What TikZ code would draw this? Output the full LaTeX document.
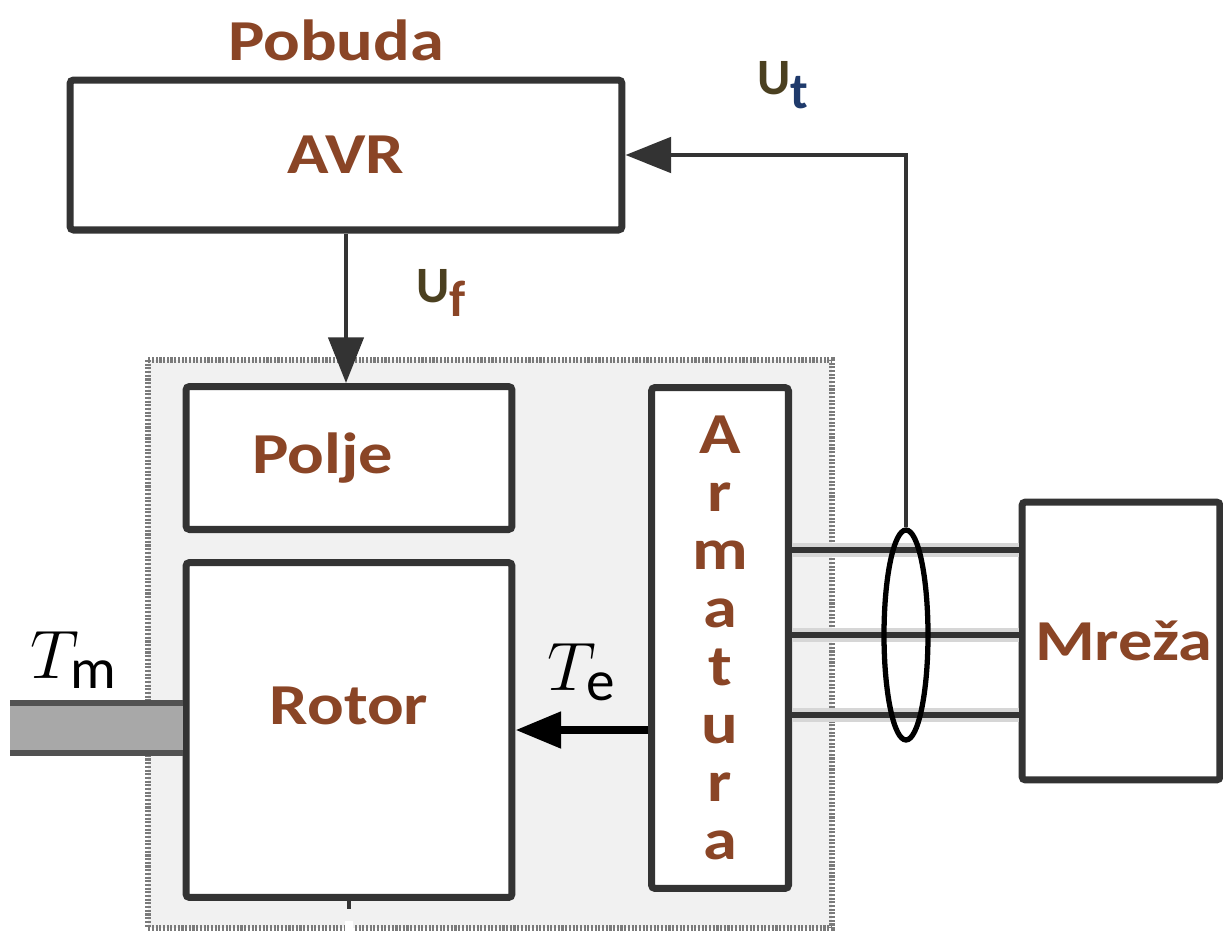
\documentclass[tikz,border=0pt]{standalone}
\usepackage{graphicx}
\usepackage{fontspec}
\setmainfont{Carlito}
\newfontfamily\widefont{Carlito}[FakeStretch=1.18]
\usetikzlibrary{arrows.meta,calc,positioning,shapes.geometric}
\definecolor{Ink}{HTML}{333333}
\definecolor{Rust}{HTML}{8A4526}
\definecolor{Bark}{HTML}{4B4020}
\definecolor{Navy}{HTML}{1F3A6B}
\definecolor{Haze}{HTML}{F1F1F1}
\definecolor{Steel}{HTML}{A8A8A8}
\newcommand{\blocktext}{\widefont\bfseries\fontsize{33}{33}\selectfont}
\newcommand{\signaltext}{\bfseries\fontsize{29}{33}\selectfont}
\newcommand{\torque}[1]{\scalebox{1.57}{\Huge$T_{\mathrm{#1}}$}}

\begin{document}
\begin{tikzpicture}[x=0.02cm,y=-0.02cm,
    blok/.style={draw=Ink,line width=4pt,fill=white,rounded corners=2pt,inner sep=0pt,font=\blocktext,text=Rust},
    lbl/.style={font=\blocktext,text=Rust,inner sep=0pt},
    sig/.style={font=\signaltext,text=Bark,inner sep=0pt},
    tip/.style={-{Triangle[length=26pt,width=20pt]}}]
    \useasboundingbox (0,0) rectangle (1223,933);
    \filldraw[fill=Haze,draw=Ink!65,line width=3pt,dash pattern=on 1.2pt off 0.9pt] (148,360) rectangle (832,928);
    \node[blok,minimum width=11.04cm,minimum height=3cm] (avr) at (346,155) {AVR};
    \node[blok,minimum width=6.52cm,minimum height=2.86cm] (polje) at (349,458) {\hspace*{-30pt}Polje};
    \node[blok,minimum width=6.52cm,minimum height=6.7cm] (rotor) at (349,730) {\raisebox{28pt}{Rotor}};
    \node[blok,minimum width=2.74cm,minimum height=10.02cm,align=center] (arm) at (720,638) {A\\r\\m\\a\\t\\u\\r\\a};
    \node[blok,minimum width=3.96cm,minimum height=5.56cm] (mreza) at (1121,641) {\hspace*{3pt}Mreža};
    % shaft
    \fill[Steel] (10,703) rectangle (rotor.west |- 0,753);
    \draw[Ink!85,line width=3pt] (10,703) -- (rotor.west |- 0,703) (10,753) -- (rotor.west |- 0,753);
    \draw[white,line width=4pt] (rotor.south) ++(0,20) -- ++(0,16);
    \draw[Ink,line width=2pt] (rotor.south) -- ++(0,8);
    % three phases
    \foreach \y in {550,635,715} {
      \draw[line width=8pt,Ink!20] (arm.east |- 0,\y) -- (mreza.west |- 0,\y);
      \draw[line width=3.4pt,Ink] (arm.east |- 0,\y) -- (mreza.west |- 0,\y);
    }
    \node[draw=black,line width=3pt,ellipse,minimum width=0.88cm,minimum height=4.2cm,inner sep=0pt] (ring) at (906,635) {};
    \draw[tip,line width=2.8pt,Ink] (ring.north) |- (avr.east);
    \draw[tip,line width=2.3pt,Ink] (avr.south) -- (avr.south |- polje.north);
    \draw[tip,line width=4.5pt,black] (arm.west |- rotor.east) -- (rotor.east);
    \node[lbl] (pobuda) at (336,40) {Pobuda};
    \node[sig] (ut) at (783,85) {U\raisebox{-8pt}{\textcolor{Navy}{t}}};
    \node[sig] (uf) at (441,293) {U\raisebox{-8pt}{\textcolor{Rust}{f}}};
    \node[inner sep=0pt] (tm) at (74,660) {\torque{m}};
    \node[inner sep=0pt] (te) at (582,672) {\torque{e}};
  \end{tikzpicture}
\end{document}
